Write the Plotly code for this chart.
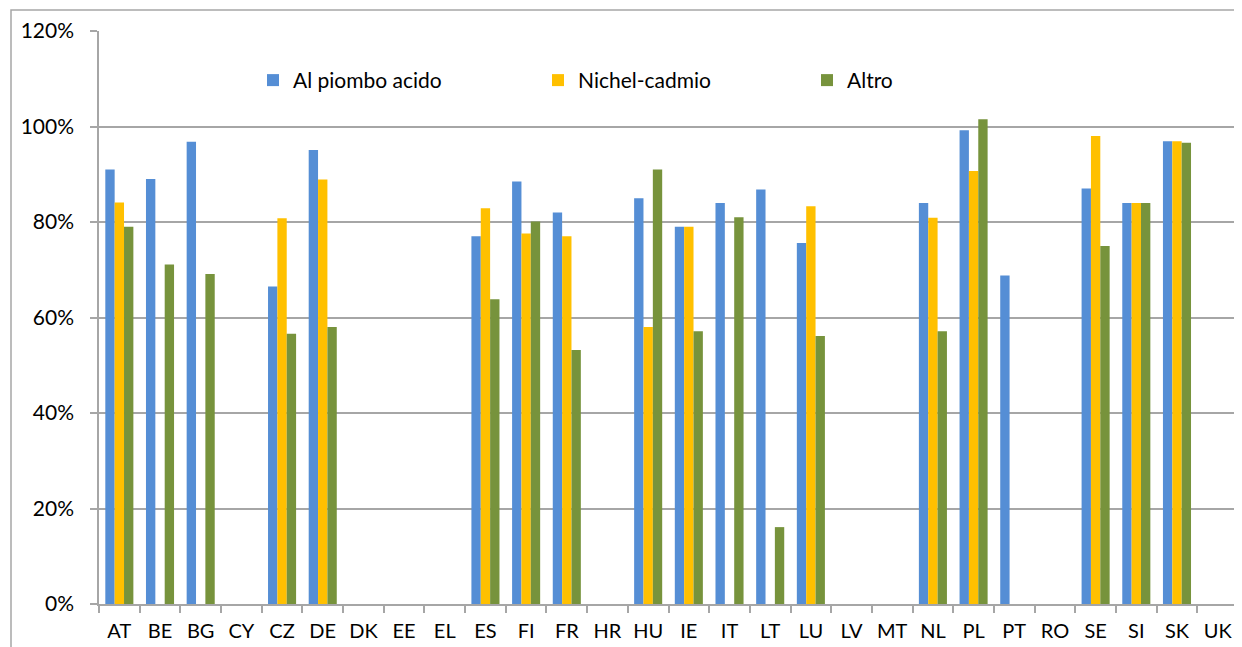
import plotly.graph_objects as go

categories = ["AT", "BE", "BG", "CY", "CZ", "DE", "DK", "EE", "EL", "ES", "FI", "FR", "HR", "HU",
              "IE", "IT", "LT", "LU", "LV", "MT", "NL", "PL", "PT", "RO", "SE", "SI", "SK", "UK"]

piombo = [0.910, 0.890, 0.968, None, 0.665, 0.951, None, None, None, 0.770, 0.885, 0.820, None, 0.850,
          0.790, 0.840, 0.868, 0.756, None, None, 0.840, 0.992, 0.688, None, 0.870, 0.840, 0.969, None]
nichel = [0.841, None, None, None, 0.808, 0.889, None, None, None, 0.829, 0.776, 0.770, None, 0.580,
          0.790, None, None, 0.833, None, None, 0.809, 0.907, None, None, 0.980, 0.840, 0.969, None]
altro = [0.790, 0.711, 0.691, None, 0.566, 0.580, None, None, None, 0.638, 0.801, 0.532, None, 0.910,
         0.571, 0.810, 0.161, 0.561, None, None, 0.571, 1.015, None, None, 0.750, 0.840, 0.966, None]

series_names = ["Al piombo acido", "Nichel-cadmio", "Altro"]
colors = ["#558ED5", "#FFC000", "#77933C"]

FONT = "Lato"
FS = 21
FSX = 20
OFF = 8  # page body offset
W, H = 1242 - OFF, 647 - OFF
ML, MT = 99 - OFF, 30.5 - OFF
MR = W - (1238 - OFF)
MB = H - (604 - OFF)
pw = W - ML - MR
ph = H - MT - MB

fig = go.Figure()
legend_ids = ["legend", "legend2", "legend3"]
for name, vals, col, lg in zip(series_names, [piombo, nichel, altro], colors, legend_ids):
    fig.add_trace(go.Bar(
        x=categories, y=vals, name=name, legend=lg,
        marker=dict(color=col, line=dict(width=0)),
    ))

def legend_cfg(text_left_px):
    return dict(
        x=(text_left_px - OFF - 40 - ML) / pw, xanchor="left",
        y=(H - MB - (80 - OFF)) / ph, yanchor="middle",
        orientation="h", bgcolor="rgba(0,0,0,0)",
        font=dict(family=FONT, size=FS, color="#000000"),
        itemwidth=30, visible=True,
    )

fig.update_layout(
    width=W, height=H,
    margin=dict(l=ML, r=MR, t=MT, b=MB, pad=0, autoexpand=False),
    paper_bgcolor="white", plot_bgcolor="white",
    showlegend=True,
    barmode="group", bargap=0.31, bargroupgap=0,
    font=dict(family=FONT, size=FS, color="#000000"),
    legend=legend_cfg(293),
    legend2=legend_cfg(578),
    legend3=legend_cfg(847),
    xaxis=dict(
        type="category", tickson="boundaries", ticks="outside", ticklen=7,
        tickcolor="#A6A6A6", tickwidth=1.5, tickangle=0,
        showline=True, linecolor="#A6A6A6", linewidth=1.5,
        showgrid=False, tickfont=dict(family=FONT, size=FSX, color="#000000"),
        ticklabelstandoff=8,
    ),
    yaxis=dict(
        range=[0, 1.2], dtick=0.2, tickformat=".0%",
        ticks="outside", ticklen=7, tickcolor="#A6A6A6", tickwidth=1.5,
        showline=True, linecolor="#A6A6A6", linewidth=1.5,
        showgrid=True, gridcolor="#A6A6A6", gridwidth=1.5,
        zeroline=False, tickfont=dict(family=FONT, size=FS, color="#000000"),
        ticklabelstandoff=12,
    ),
)

# outer chart border (light gray frame)
fig.add_shape(type="rect", xref="paper", yref="paper",
              x0=(11 - OFF - ML) / pw, x1=(W + 5 - ML) / pw,
              y0=(H - MB - (H + 5)) / ph, y1=(H - MB - (9.5 - OFF)) / ph,
              line=dict(color="#A6A6A6", width=1.5), fillcolor="rgba(0,0,0,0)", layer="below")

fig.write_html("out.html")
